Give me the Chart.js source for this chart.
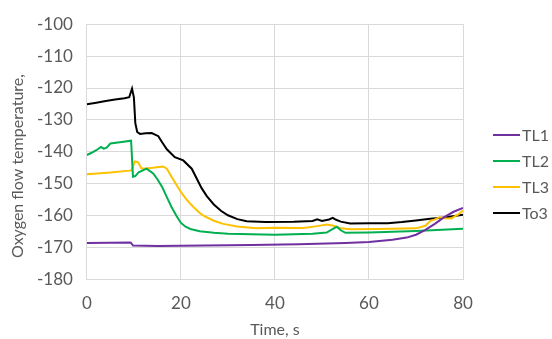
<!DOCTYPE html>
<html>
<head>
<meta charset="utf-8">
<script src="https://cdn.jsdelivr.net/npm/chart.js@4/dist/chart.umd.min.js"></script>
<style>
  html, body { margin: 0; padding: 0; background: #fff; }
  #chart { display: block; }
</style>
</head>
<body>
<canvas id="chart" width="552" height="339"></canvas>
<script>
// values, time in s, temperature in the y units
const seriesNames = ["TL1", "TL2", "TL3", "To3"];
const seriesColors = ["#7030A0", "#00B050", "#FFC000", "#000000"];

const tl1Time = [0, 5, 9.3, 9.8, 15, 25, 35, 45, 55, 60, 65, 68, 70, 72, 74, 76, 78, 80];
const tl1Temp = [-168.6, -168.5, -168.4, -169.4, -169.5, -169.4, -169.2, -169, -168.6, -168.3, -167.6, -166.9, -166, -164.5, -162.6, -160.5, -158.8, -157.6];

const tl2Time = [0, 1, 2, 3, 3.6, 4.2, 5, 7, 9.4, 9.8, 10.3, 11, 12.7, 14.1, 15, 16, 17, 18, 19, 20, 21, 22, 24, 27, 30, 40, 48, 51, 52.5, 53.2, 54, 55, 60, 70, 80];
const tl2Temp = [-141, -140.3, -139.5, -138.5, -139, -138.7, -137.4, -137, -136.5, -147.8, -147.6, -146.4, -145.3, -146.8, -148.6, -151, -154.2, -157.3, -160, -162.3, -163.5, -164.2, -164.9, -165.4, -165.7, -166, -165.7, -165.3, -164, -163.5, -164.6, -165.4, -165.3, -164.8, -164.1];

const tl3Time = [0, 5, 9, 9.5, 10.2, 10.9, 11.6, 12.5, 14, 16.2, 17, 18, 19.4, 20, 21, 22, 23, 24, 25, 27, 29, 32, 36, 40, 46, 49, 51, 52.5, 54, 56, 62, 70, 72, 73, 74, 75, 76, 77.5, 79, 80];
const tl3Temp = [-147, -146.5, -145.9, -145.8, -143, -143.3, -145.2, -145.2, -145, -144.6, -145.3, -147.8, -151.2, -152.6, -154.6, -156.3, -157.8, -159.2, -160.2, -161.6, -162.6, -163.4, -164, -163.8, -163.9, -163.3, -162.8, -163.2, -164, -164.3, -164.2, -164, -163.2, -161.7, -161.2, -160.5, -160.8, -160.9, -159.6, -158.4];

const to3Time = [0, 2, 4, 6, 8, 9, 9.6, 10, 10.3, 10.7, 11.3, 12.5, 13.8, 15.2, 16, 17, 18.7, 20.5, 22.3, 24.4, 25.5, 27, 28.5, 30, 32, 34, 38, 44, 48, 49, 50, 51.5, 52.3, 53, 54, 56, 60, 64, 67, 70, 73, 76, 80];
const to3Temp = [-125.1, -124.6, -124.1, -123.6, -123.2, -122.9, -120.2, -123, -131, -133.8, -134.4, -134.2, -134.1, -135.1, -137, -139.2, -141.7, -142.7, -145.3, -151.4, -153.9, -156.5, -158.5, -159.9, -161.1, -161.8, -162, -161.9, -161.7, -161.2, -161.7, -161.2, -160.7, -161.3, -161.9, -162.5, -162.4, -162.4, -162, -161.5, -161, -160.6, -159.7];

const xTicks = [0, 20, 40, 60, 80];
const yTicks = [-180, -170, -160, -150, -140, -130, -120, -110, -100];
const yTitle = "Oxygen flow temperature,";

function toPoints(times, temps) {
  return times.map((t, i) => ({ x: t, y: temps[i] }));
}

const allTimes = [tl1Time, tl2Time, tl3Time, to3Time];
const allTemps = [tl1Temp, tl2Temp, tl3Temp, to3Temp];

const textColor = "#595959";
const gridColor = "#d9d9d9";
const fontFamily = "Lato, 'Open Sans', sans-serif";

const datasets = seriesNames.map((name, i) => ({
  label: name,
  data: toPoints(allTimes[i], allTemps[i]),
  borderColor: seriesColors[i],
  backgroundColor: seriesColors[i],
  borderWidth: 2,
  pointRadius: 0,
  tension: 0
}));

// legend on the right and the y title (sits a bit low in the original)
const extras = {
  id: "extras",
  afterDraw(chart) {
    const ctx = chart.ctx;
    const x0 = chart.chartArea.right + 30;
    const yStart = 135;
    const step = 26;
    ctx.save();
    ctx.font = "16px " + fontFamily;
    ctx.textBaseline = "middle";
    ctx.textAlign = "left";
    chart.data.datasets.forEach((ds, i) => {
      const y = yStart + i * step;
      ctx.strokeStyle = ds.borderColor;
      ctx.lineWidth = 2;
      ctx.beginPath();
      ctx.moveTo(x0, y);
      ctx.lineTo(x0 + 27, y);
      ctx.stroke();
      ctx.fillStyle = textColor;
      ctx.fillText(ds.label, x0 + 29, y + 1);
    });

    ctx.translate(18, 166);
    ctx.rotate(-Math.PI / 2);
    ctx.textAlign = "center";
    ctx.fillText(yTitle, 0, 0);
    ctx.restore();
  }
};

new Chart(document.getElementById("chart").getContext("2d"), {
  type: "line",
  data: { datasets },
  options: {
    responsive: false,
    animation: false,
    layout: { padding: { top: 6, right: 89, bottom: 0, left: 23 } },
    plugins: {
      tooltip: { enabled: false },
      legend: { display: false }
    },
    scales: {
      x: {
        type: "linear",
        min: 0,
        max: 80,
        afterBuildTicks: axis => { axis.ticks = xTicks.map(v => ({ value: v })); },
        grid: { color: gridColor, drawTicks: false },
        border: { color: gridColor },
        ticks: { color: textColor, font: { family: fontFamily, size: 17 }, padding: 14 },
        title: { display: true, text: "Time, s", color: textColor, font: { family: fontFamily, size: 16 }, padding: { top: -8, bottom: 0 } }
      },
      y: {
        min: -180,
        max: -100,
        afterBuildTicks: axis => { axis.ticks = yTicks.map(v => ({ value: v })); },
        grid: { color: gridColor, drawTicks: false },
        border: { color: gridColor },
        ticks: { color: textColor, font: { family: fontFamily, size: 17 }, padding: 14 }
      }
    }
  },
  plugins: [extras]
});
</script>
</body>
</html>
